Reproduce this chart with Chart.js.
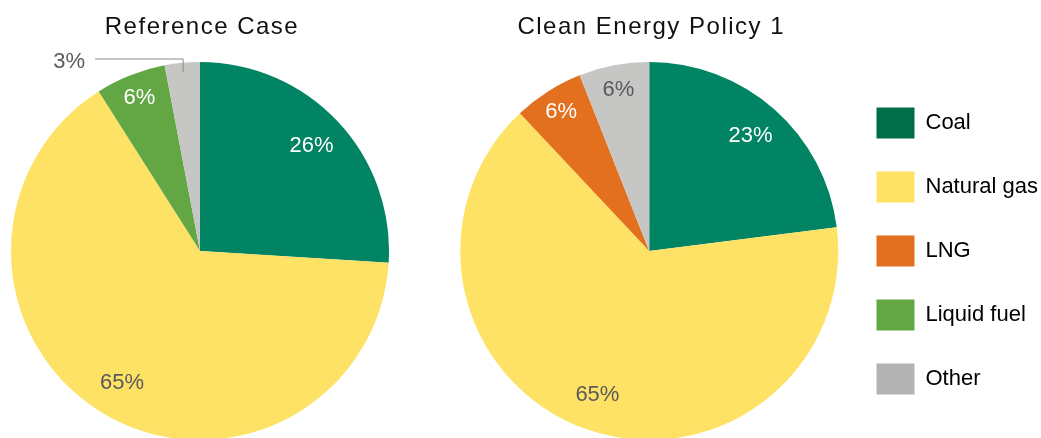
<!DOCTYPE html>
<html lang="en">
<head>
<meta charset="UTF-8">
<title>Reference Case vs Clean Energy Policy 1</title>
<script src="https://cdn.jsdelivr.net/npm/chart.js"></script>
<style>
  html, body { margin: 0; padding: 0; background: #fff; overflow: hidden; width: 1041px; height: 438px; }
  #wrap1 { position: absolute; left: 11px; top: 0; }
  #wrap2 { position: absolute; left: 455px; top: 0; }
</style>
</head>
<body>
<div id="wrap1"><canvas id="chart1" width="378" height="440"></canvas></div>
<div id="wrap2"><canvas id="chart2" width="593" height="440"></canvas></div>

<script>
  // shares in percent, clockwise from 12 o'clock
  const categories = ['Coal', 'Natural gas', 'LNG', 'Liquid fuel', 'Other'];
  const referenceCase = [26, 65, 0, 6, 3];
  const cleanEnergyPolicy = [23, 65, 6, 0, 6];

  const sliceColors = ['#008463', '#fee265', '#e2701f', '#62a744', '#c6c6c4'];
  const legendColors = ['#006e48', '#fee265', '#e2701f', '#62a744', '#b3b3b3'];
  const labelColors = ['#ffffff', '#5a5a5a', '#ffffff', '#ffffff', '#5a5a5a'];

  const FONT = '"Liberation Sans", Arial, Helvetica, sans-serif';
  Chart.defaults.font.family = FONT;

  // title over the pie, drawn with a bit of letter spacing like the original
  const pieTitle = {
    id: 'pieTitle',
    afterDraw(chart, args, opts) {
      const ctx = chart.ctx;
      const area = chart.chartArea;
      ctx.save();
      ctx.font = '24px ' + FONT;
      ctx.letterSpacing = '1.5px';
      ctx.fillStyle = '#111';
      ctx.textAlign = 'center';
      ctx.textBaseline = 'alphabetic';
      ctx.fillText(opts.text, (area.left + area.right) / 2 + 2, 34);
      ctx.restore();
    }
  };

  // percentage labels inside slices, small ones get a leader line
  const sliceLabels = {
    id: 'sliceLabels',
    afterDatasetsDraw(chart) {
      const ctx = chart.ctx;
      const meta = chart.getDatasetMeta(0);
      const values = chart.data.datasets[0].data;
      ctx.save();
      ctx.font = '22px ' + FONT;
      meta.data.forEach((arc, i) => {
        const v = values[i];
        if (!v) return;
        const p = arc.getProps(['x', 'y', 'startAngle', 'endAngle', 'outerRadius'], true);
        const mid = (p.startAngle + p.endAngle) / 2;
        const r = p.outerRadius;
        if (v < 5) {
          const ax = p.x + Math.cos(mid) * r * 0.95;
          const ay = p.y + Math.sin(mid) * r * 0.95;
          const ey = p.y - r - 3;
          const ex = ax - 88;
          ctx.strokeStyle = '#8a8a8a';
          ctx.lineWidth = 1;
          ctx.beginPath();
          ctx.moveTo(ax, ay);
          ctx.lineTo(ax, ey);
          ctx.lineTo(ex, ey);
          ctx.stroke();
          ctx.fillStyle = '#5a5a5a';
          ctx.textAlign = 'right';
          ctx.textBaseline = 'middle';
          ctx.fillText(v + '%', ex - 10, ey + 3);
        } else {
          const k = v < 10 ? 0.87 : 0.81;
          const lx = p.x + Math.cos(mid) * r * k;
          const ly = p.y + Math.sin(mid) * r * k;
          ctx.fillStyle = labelColors[i];
          ctx.textAlign = 'center';
          ctx.textBaseline = 'middle';
          ctx.fillText(v + '%', lx, ly);
        }
      });
      ctx.restore();
    }
  };

  function pieConfig(values, title, showLegend) {
    return {
      type: 'pie',
      data: {
        labels: categories,
        datasets: [{
          data: values,
          backgroundColor: sliceColors,
          borderWidth: 0
        }]
      },
      options: {
        responsive: false,
        animation: false,
        layout: { padding: { top: 62 } },
        plugins: {
          pieTitle: { text: title },
          title: { display: false },
          tooltip: { enabled: false },
          legend: {
            display: showLegend,
            position: 'right',
            fullSize: false,
            labels: {
              boxWidth: 38,
              boxHeight: 31,
              padding: 33,
              color: '#595959',
              font: { size: 22, family: FONT },
              generateLabels: () => categories.map((c, i) => ({
                text: c,
                fillStyle: legendColors[i],
                strokeStyle: legendColors[i],
                lineWidth: 0,
                hidden: false,
                index: i
              }))
            }
          }
        }
      },
      plugins: [sliceLabels, pieTitle]
    };
  }

  new Chart(document.getElementById('chart1'), pieConfig(referenceCase, 'Reference Case', false));
  new Chart(document.getElementById('chart2'), pieConfig(cleanEnergyPolicy, 'Clean Energy Policy 1', true));
</script>
</body>
</html>
